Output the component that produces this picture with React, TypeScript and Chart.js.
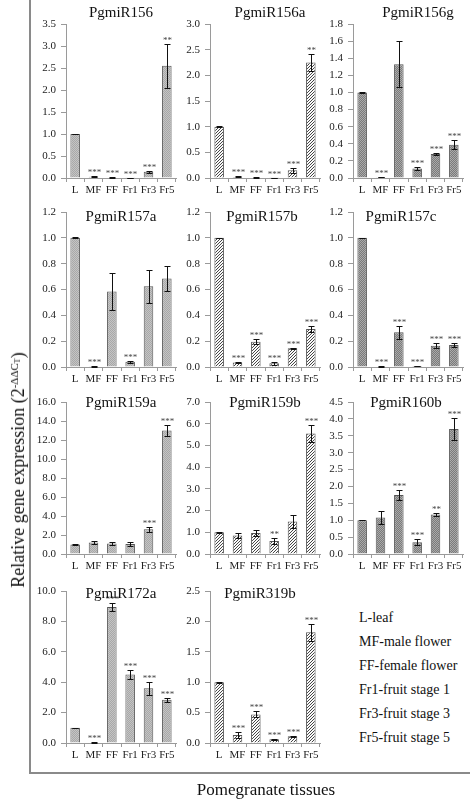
import React, { useEffect, useRef } from 'react';
import { Chart, registerables } from 'chart.js';

Chart.register(...registerables);

// ---------- DATA ----------
const categories = ['L', 'MF', 'FF', 'Fr1', 'Fr3', 'Fr5'];

const titles = [
  'PgmiR156', 'PgmiR156a', 'PgmiR156g',
  'PgmiR157a', 'PgmiR157b', 'PgmiR157c',
  'PgmiR159a', 'PgmiR159b', 'PgmiR160b',
  'PgmiR172a', 'PgmiR319b',
];

const yMax = [3.5, 3.0, 1.8, 1.2, 1.2, 1.2, 16.0, 7.0, 4.5, 10.0, 2.5];
const yStep = [0.5, 0.5, 0.2, 0.2, 0.2, 0.2, 2.0, 1.0, 0.5, 1.0, 0.5];

const miR156 = [1.0, 0.03, 0.01, 0.005, 0.14, 2.55];
const miR156Err = [0.01, 0.01, 0.003, 0.002, 0.015, 0.5];
const miR156Sig = ['', '***', '***', '***', '***', '**'];

const miR156a = [1.0, 0.02, 0.01, 0.005, 0.15, 2.25];
const miR156aErr = [0.005, 0.01, 0.003, 0.002, 0.05, 0.17];
const miR156aSig = ['', '***', '***', '***', '***', '**'];

const miR156g = [1.0, 0.01, 1.33, 0.11, 0.28, 0.39];
const miR156gErr = [0.003, 0.003, 0.27, 0.015, 0.015, 0.05];
const miR156gSig = ['', '***', '', '***', '***', '***'];

const miR157a = [1.0, 0.005, 0.585, 0.04, 0.625, 0.685];
const miR157aErr = [0.003, 0.002, 0.145, 0.01, 0.127, 0.1];
const miR157aSig = ['', '***', '', '***', '', ''];

const miR157b = [1.0, 0.035, 0.195, 0.03, 0.145, 0.295];
const miR157bErr = [0.002, 0.005, 0.02, 0.012, 0.003, 0.025];
const miR157bSig = ['', '***', '***', '***', '***', '***'];

const miR157c = [1.0, 0.003, 0.27, 0.008, 0.165, 0.17];
const miR157cErr = [0.002, 0.001, 0.05, 0.002, 0.02, 0.015];
const miR157cSig = ['', '***', '***', '***', '***', '***'];

const miR159a = [1.0, 1.22, 1.1, 1.05, 2.6, 13.0];
const miR159aErr = [0.02, 0.2, 0.15, 0.2, 0.25, 0.6];
const miR159aSig = ['', '', '', '', '***', '***'];

const miR159b = [1.0, 0.85, 0.97, 0.6, 1.5, 5.55];
const miR159bErr = [0.01, 0.1, 0.15, 0.12, 0.3, 0.4];
const miR159bSig = ['', '', '', '**', '', '***'];

const miR160b = [1.0, 1.08, 1.75, 0.35, 1.17, 3.7];
const miR160bErr = [0.005, 0.2, 0.14, 0.08, 0.05, 0.32];
const miR160bSig = ['', '', '***', '***', '**', '***'];

const miR172a = [1.0, 0.03, 8.95, 4.5, 3.6, 2.85];
const miR172aErr = [0.01, 0.01, 0.25, 0.3, 0.42, 0.12];
const miR172aSig = ['', '***', '***', '***', '***', '***'];

const miR319b = [1.0, 0.13, 0.47, 0.06, 0.11, 1.82];
const miR319bErr = [0.005, 0.05, 0.05, 0.01, 0.01, 0.14];
const miR319bSig = ['', '***', '***', '***', '***', '***'];

const legendLines = [
  'L-leaf',
  'MF-male flower',
  'FF-female flower',
  'Fr1-fruit stage 1',
  'Fr3-fruit stage 3',
  'Fr5-fruit stage 5',
];

const seriesValues = [miR156, miR156a, miR156g, miR157a, miR157b, miR157c, miR159a, miR159b, miR160b, miR172a, miR319b];
const seriesErrors = [miR156Err, miR156aErr, miR156gErr, miR157aErr, miR157bErr, miR157cErr, miR159aErr, miR159bErr, miR160bErr, miR172aErr, miR319bErr];
const seriesSig = [miR156Sig, miR156aSig, miR156gSig, miR157aSig, miR157bSig, miR157cSig, miR159aSig, miR159bSig, miR160bSig, miR172aSig, miR319bSig];

// ---------- LAYOUT ----------
const colX = [[66, 176], [210, 320], [353, 463]];
const rowY = [[24, 178], [212, 367], [402, 554], [591, 743]];
const titleDy = [-7, 9, 5, 7];
const titleDx = [0, 5, 10, 0, -3, -7, 0, 0, -2, 0, -5];
const Y_AXIS_W = 45;
const X_AXIS_H = 22;
const PAD_TOP = 20;
const PAD_RIGHT = 6;
const FONT = '"Liberation Serif", "Times New Roman", serif';
const AXIS_COLOR = '#9a9a9a';

function makePattern(kind: number): CanvasPattern | string {
  const c = document.createElement('canvas');
  const n = kind === 1 ? 3 : 2;
  c.width = n;
  c.height = n;
  const g = c.getContext('2d');
  if (!g) return '#aaa';
  const img = g.createImageData(n, n);
  for (let y = 0; y < n; y++) {
    for (let x = 0; x < n; x++) {
      let v: number;
      if (kind === 1) v = (x + y) % n === n - 1 ? 70 : 250;
      else if (kind === 0) v = (x + y) % 2 === 0 ? 196 : 168;
      else v = (x + y) % 2 === 0 ? 170 : 122;
      const i = (y * n + x) * 4;
      img.data[i] = v;
      img.data[i + 1] = v;
      img.data[i + 2] = v;
      img.data[i + 3] = 255;
    }
  }
  g.putImageData(img, 0, 0);
  const p = g.createPattern(c, 'repeat');
  return p || '#aaa';
}

function Panel({ idx }: { idx: number }) {
  const ref = useRef<HTMLCanvasElement>(null);
  const col = idx % 3;
  const row = Math.floor(idx / 3);
  const [l, r] = colX[col];
  const [t, b] = rowY[row];
  const w = r - l + Y_AXIS_W + PAD_RIGHT;
  const h = b - t + PAD_TOP + X_AXIS_H;

  useEffect(() => {
    const canvas = ref.current;
    if (!canvas) return;
    const values = seriesValues[idx];
    const errors = seriesErrors[idx];
    const sig = seriesSig[idx];
    const fill = makePattern(col);

    const annot = {
      id: 'annot',
      afterDatasetsDraw(chart: any) {
        const ctx = chart.ctx as CanvasRenderingContext2D;
        const meta = chart.getDatasetMeta(0);
        const ys = chart.scales.y;
        ctx.save();
        ctx.strokeStyle = '#111';
        ctx.lineWidth = 1;
        values.forEach((v, i) => {
          const e = errors[i];
          const x = Math.round(meta.data[i].x) + 0.5;
          const yt = Math.round(ys.getPixelForValue(v + e)) + 0.5;
          const yb = Math.round(ys.getPixelForValue(Math.max(0, v - e))) + 0.5;
          if (e > 0) {
            ctx.beginPath();
            ctx.moveTo(x, yt);
            ctx.lineTo(x, yb);
            ctx.moveTo(x - 3, yt);
            ctx.lineTo(x + 3, yt);
            ctx.moveTo(x - 3, yb);
            ctx.lineTo(x + 3, yb);
            ctx.stroke();
          }
          if (sig[i]) {
            ctx.fillStyle = '#444';
            ctx.font = `9px ${FONT}`;
            ctx.textAlign = 'center';
            ctx.textBaseline = 'alphabetic';
            ctx.fillText(sig[i], x, yt - 2);
          }
        });
        const area = chart.chartArea;
        ctx.fillStyle = '#111';
        ctx.font = `15px ${FONT}`;
        ctx.textAlign = 'center';
        ctx.textBaseline = 'alphabetic';
        ctx.fillText(titles[idx], (area.left + area.right) / 2 + titleDx[idx], area.top + titleDy[row]);
        ctx.restore();
      },
    };

    const chart = new Chart(canvas, {
      type: 'bar',
      data: {
        labels: categories,
        datasets: [
          {
            data: values,
            backgroundColor: fill as any,
            borderColor: '#555',
            borderWidth: 1,
            barPercentage: 0.52,
            categoryPercentage: 1,
          },
        ],
      },
      options: {
        responsive: false,
        animation: false,
        devicePixelRatio: 1,
        layout: { padding: { top: PAD_TOP, right: PAD_RIGHT, left: 0, bottom: 0 } },
        plugins: { legend: { display: false }, tooltip: { enabled: false }, title: { display: false } },
        scales: {
          x: {
            grid: { display: true, drawOnChartArea: false, drawTicks: true, tickLength: 4, color: AXIS_COLOR, offset: true },
            border: { display: true, color: AXIS_COLOR, width: 1 },
            ticks: { font: { family: FONT, size: 11 }, color: '#222', padding: 2, maxRotation: 0, autoSkip: false },
            afterFit: (s: any) => { s.height = X_AXIS_H; },
          },
          y: {
            min: 0,
            max: yMax[idx],
            grid: { display: true, drawOnChartArea: false, drawTicks: true, tickLength: 5, color: AXIS_COLOR },
            border: { display: true, color: AXIS_COLOR, width: 1 },
            ticks: {
              stepSize: yStep[idx],
              font: { family: FONT, size: 11 },
              color: '#222',
              padding: 5,
              callback: (v: any) => Number(v).toFixed(1),
            },
            afterFit: (s: any) => { s.width = Y_AXIS_W; },
          },
        },
      },
      plugins: [annot],
    });
    return () => chart.destroy();
  }, []);

  return (
    <canvas
      ref={ref}
      width={w}
      height={h}
      style={{ position: 'absolute', left: l - Y_AXIS_W, top: t - PAD_TOP, width: w, height: h }}
    />
  );
}

export default function App() {
  return (
    <div
      style={{
        position: 'absolute',
        left: 0,
        top: 0,
        width: 472,
        height: 801,
        background: '#fff',
        overflow: 'hidden',
        fontFamily: FONT,
        color: '#111',
      }}
    >
      <div
        style={{
          position: 'absolute',
          left: 29,
          top: -4,
          width: 441,
          height: 778,
          boxSizing: 'border-box',
          borderLeft: '2px solid #8a8a8a',
          borderBottom: '2px solid #8a8a8a',
        }}
      />
      {titles.map((_, i) => (
        <Panel key={i} idx={i} />
      ))}
      <div
        style={{
          position: 'absolute',
          left: 16,
          top: 470,
          transform: 'translate(-50%, -50%) rotate(-90deg)',
          whiteSpace: 'nowrap',
          fontSize: 18,
          lineHeight: '20px',
        }}
      >
        Relative gene expression (2
        <sup style={{ fontSize: 11, verticalAlign: '0.55em' }}>
          -ΔΔC<sub style={{ fontSize: 8, verticalAlign: '-0.2em' }}>T</sub>
        </sup>
        )
      </div>
      <div
        style={{
          position: 'absolute',
          left: 266,
          top: 790,
          transform: 'translate(-50%, -50%)',
          whiteSpace: 'nowrap',
          fontSize: 17,
        }}
      >
        Pomegranate tissues
      </div>
      <div style={{ position: 'absolute', left: 359, top: 606, fontSize: 14 }}>
        {legendLines.map((s, i) => (
          <div key={i} style={{ height: 24, lineHeight: '24px', whiteSpace: 'nowrap' }}>
            {s}
          </div>
        ))}
      </div>
    </div>
  );
}
